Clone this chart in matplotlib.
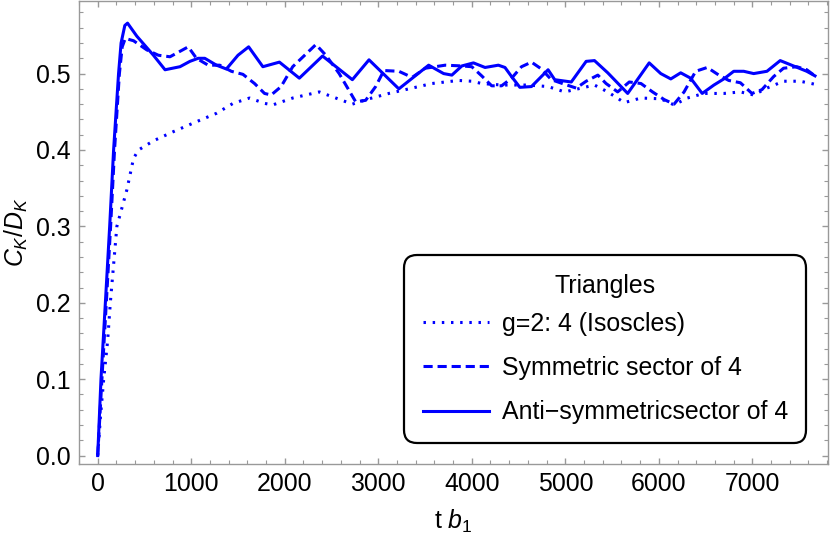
import numpy as np
import matplotlib
matplotlib.use("Agg")
import matplotlib.pyplot as plt

plt.rcParams['font.family'] = ['Liberation Sans', 'DejaVu Sans']
plt.rcParams['mathtext.fontset'] = 'custom'
plt.rcParams['mathtext.rm'] = 'Liberation Sans'
plt.rcParams['mathtext.it'] = 'Liberation Sans:italic'

# data (t b1, C_K/D_K)
t_iso = [0, 29, 64, 106, 135, 170, 205, 312, 383, 436, 596, 809, 1056, 1270, 1447,
         1624, 1784, 1872, 2085, 2369, 2546, 2723, 2901, 3113, 3362, 3574, 3858, 4000,
         4106, 4319, 4603, 4816, 4993, 5135, 5312, 5454, 5631, 5809, 6021, 6163, 6305,
         6482, 6695, 6872, 7014, 7156, 7333, 7511, 7670]
c_iso = [0, .05, .1, .15, .2, .25, .3, .348, .389, .400, .412, .424, .437, .448, .461,
         .468, .461, .459, .468, .476, .468, .460, .467, .474, .481, .487, .491, .490,
         .487, .485, .485, .483, .476, .480, .485, .476, .462, .468, .467, .459, .468,
         .474, .474, .476, .472, .481, .490, .490, .486]

t_sym = [0, 45, 92, 138, 180, 232, 262, 295, 383, 525, 649, 773, 968, 1056, 1181, 1305,
         1429, 1553, 1677, 1784, 1855, 1961, 2085, 2333, 2440, 2582, 2759, 2865, 2972,
         3060, 3220, 3362, 3503, 3716, 3894, 4000, 4106, 4213, 4319, 4426, 4532, 4638,
         4745, 4851, 4993, 5117, 5223, 5348, 5436, 5560, 5684, 5809, 5933, 6057, 6163,
         6270, 6394, 6518, 6642, 6748, 6872, 6996, 7103, 7227, 7333, 7475, 7582, 7670]
c_sym = [0, .1, .2, .3, .4, .5, .535, .546, .543, .531, .524, .522, .535, .520, .511, .511,
         .503, .499, .487, .474, .472, .483, .509, .538, .524, .500, .463, .465, .483,
         .504, .503, .495, .507, .511, .510, .509, .497, .484, .484, .494, .509, .515,
         .506, .492, .486, .481, .490, .498, .487, .476, .489, .487, .476, .466, .460,
         .476, .503, .508, .498, .491, .488, .474, .479, .496, .507, .509, .505, .497]

t_anti = [0, 35, 82, 128, 170, 223, 250, 290, 319, 418, 596, 720, 880, 986, 1074, 1145,
          1270, 1376, 1500, 1614, 1766, 1943, 2156, 2404, 2723, 2901, 3220, 3539, 3699,
          3787, 3894, 4018, 4142, 4284, 4355, 4426, 4514, 4638, 4816, 4887, 5064, 5223,
          5312, 5454, 5667, 5897, 6021, 6128, 6234, 6340, 6464, 6589, 6695, 6801, 6908,
          7014, 7156, 7298, 7440, 7582, 7670]
c_anti = [0, .1, .2, .3, .4, .5, .54, .563, .566, .549, .524, .505, .509, .516, .520, .520,
          .511, .506, .524, .535, .509, .515, .494, .523, .492, .518, .480, .511, .500,
          .498, .510, .514, .508, .511, .508, .496, .482, .483, .505, .492, .489, .516,
          .517, .501, .474, .514, .500, .493, .501, .494, .474, .485, .493, .503, .503,
          .500, .503, .517, .510, .503, .497]

labels = ["g=2: 4 (Isoscles)", "Symmetric sector of 4", "Anti\u2212symmetricsector of 4"]

fs = 17.9
fig = plt.figure(figsize=(8.3, 5.38), dpi=100)
ax = fig.add_axes([79/830, 1 - 464/538, 749/830, 463/538])

blue = (0, 0, 1)
ax.plot(t_iso, c_iso, color=blue, lw=2.2, ls=(0, (0.8, 2.2)), label=labels[0])
ax.plot(t_sym, c_sym, color=blue, lw=2.2, ls=(0, (3.0, 1.6)), label=labels[1])
ax.plot(t_anti, c_anti, color=blue, lw=2.2, ls='-', label=labels[2])

ax.set_xlim(-160, 7809)
ax.set_ylim(-0.011, 0.595)
ax.set_xticks(np.arange(0, 7001, 1000))
ax.set_xticks(np.arange(-200, 7801, 200), minor=True)
ax.set_yticks(np.arange(0, 0.51, 0.1))
ax.set_yticks(np.arange(0, 0.59, 0.02), minor=True)
ax.yaxis.set_major_formatter(matplotlib.ticker.FormatStrFormatter('%.1f'))

for s in ax.spines.values():
    s.set_color('#999999')
    s.set_linewidth(1.0)
ax.tick_params(which='both', direction='in', top=True, right=True, color='#999999',
               labelsize=fs, labelcolor='black', pad=6)
ax.tick_params(which='major', length=4.2, width=1.0)
ax.tick_params(which='minor', length=2.6, width=0.8)

ax.set_xlabel("t $b_1$", fontsize=fs, labelpad=8)
ax.set_ylabel("$C_K/D_K$", fontsize=fs, labelpad=4)

leg = ax.legend(title="Triangles", loc='lower right', bbox_to_anchor=(0.971, 0.046),
                borderaxespad=0, fontsize=fs, title_fontsize=fs, handlelength=2.65,
                handletextpad=0.52, labelspacing=0.82, borderpad=0.74, frameon=True,
                fancybox=True, framealpha=1)
# tighter gap between title and first entry
leg._legend_box.sep = 0.55 * fs
frame = leg.get_frame()
frame.set_edgecolor('black')
frame.set_linewidth(1.6)
frame.set_boxstyle('round', pad=0, rounding_size=0.5)

fig.savefig("out.png", dpi=100)
